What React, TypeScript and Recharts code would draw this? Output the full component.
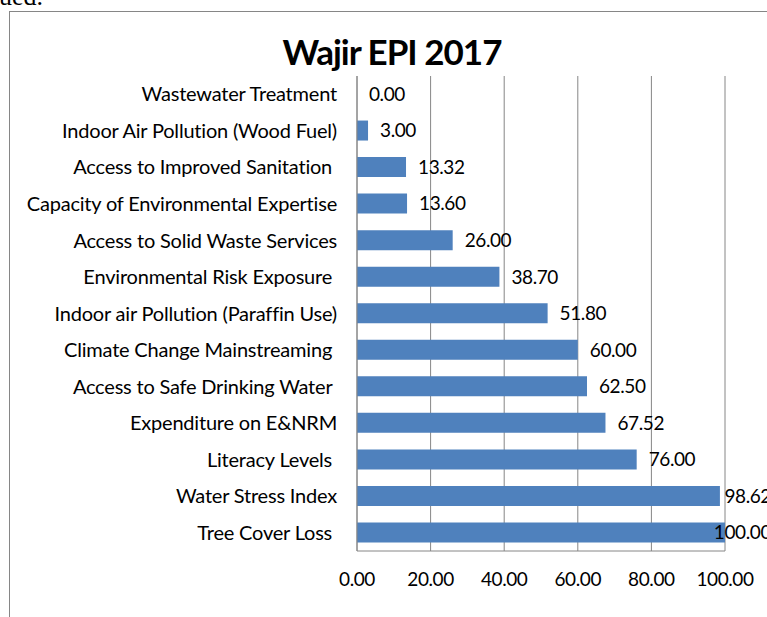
import React from "react";
import { Bar, BarChart, CartesianGrid, LabelList, XAxis, YAxis } from "recharts";

// categories top-to-bottom as they appear in the chart
const categories = [
  "Wastewater Treatment",
  "Indoor Air Pollution (Wood Fuel)",
  "Access to Improved Sanitation\u00a0",
  "Capacity of Environmental Expertise",
  "Access to Solid Waste Services",
  "Environmental Risk Exposure\u00a0",
  "Indoor air Pollution (Paraffin Use)",
  "Climate Change Mainstreaming\u00a0",
  "Access to Safe Drinking Water\u00a0",
  "Expenditure on E&NRM",
  "Literacy Levels\u00a0",
  "Water Stress Index",
  "Tree Cover Loss\u00a0",
];

const scores = [0, 3, 13.32, 13.6, 26, 38.7, 51.8, 60, 62.5, 67.52, 76, 98.62, 100];

const xTicks = [0, 20, 40, 60, 80, 100];

const title = "Wajir EPI 2017";

const data = categories.map((name, i) => ({ name, score: scores[i] }));

const FONT = "Lato, 'Open Sans', sans-serif";
const GRID = "#868686";
const BLUE = "#4F81BD";
const RIGHT_LIMIT = 771;

// Excel pulls labels back inside the chart area when they would run off the edge
const renderValueLabel = (props: any) => {
  const { x, y, width, height, value } = props;
  const text = Number(value).toFixed(2);
  const est = (text.length - 1) * 10.6 + 4.4;
  let lx = x + width + 12;
  let anchor: "start" | "end" = "start";
  if (lx + est > RIGHT_LIMIT) {
    lx = RIGHT_LIMIT;
    anchor = "end";
  }
  return (
    <text
      x={lx}
      y={y + height / 2}
      dy="0.36em"
      textAnchor={anchor}
      fontFamily={FONT}
      fontSize={19}
      letterSpacing={-0.4}
      fill="#000"
    >
      {text}
    </text>
  );
};

export default function App() {
  return (
    <div
      style={{
        position: "fixed",
        left: 0,
        top: 0,
        width: 767,
        height: 617,
        overflow: "hidden",
        background: "#fff",
      }}
    >
      <svg
        width={767}
        height={617}
        style={{ position: "absolute", left: 0, top: 0 }}
      >
        <text x={-1} y={5} fontFamily="'Liberation Serif', serif" fontSize={26}>
          ued.
        </text>
        <rect x={9.5} y={11.5} width={800} height={700} fill="none" stroke={GRID} />
        <text
          x={392}
          y={65}
          textAnchor="middle"
          fontFamily={FONT}
          fontWeight="bold"
          fontSize={35}
          letterSpacing={-1}
          fill="#000"
        >
          {title}
        </text>
      </svg>
      <div style={{ position: "absolute", left: 0, top: 0 }}>
        <BarChart
          width={800}
          height={617}
          data={data}
          layout="vertical"
          margin={{ top: 76, right: 75, left: 0, bottom: 26 }}
        >
          <CartesianGrid horizontal={false} stroke={GRID} />
          <XAxis
            type="number"
            domain={[0, 100]}
            ticks={xTicks}
            tickFormatter={(v: number) => v.toFixed(2)}
            height={40}
            tickLine={false}
            tickSize={0}
            tickMargin={22}
            axisLine={{ stroke: GRID }}
            tick={{ fill: "#000", fontSize: 19, fontFamily: FONT, letterSpacing: -0.4 }}
          />
          <YAxis
            type="category"
            dataKey="name"
            width={357}
            tickLine={false}
            tickSize={0}
            tickMargin={20}
            axisLine={{ stroke: GRID }}
            interval={0}
            tick={{ fill: "#000", fontSize: 20, fontFamily: FONT, letterSpacing: -0.2 }}
          />
          <Bar
            dataKey="score"
            fill={BLUE}
            barSize={20}
            minPointSize={0.01}
            isAnimationActive={false}
          >
            <LabelList dataKey="score" content={renderValueLabel} />
          </Bar>
        </BarChart>
      </div>
    </div>
  );
}
